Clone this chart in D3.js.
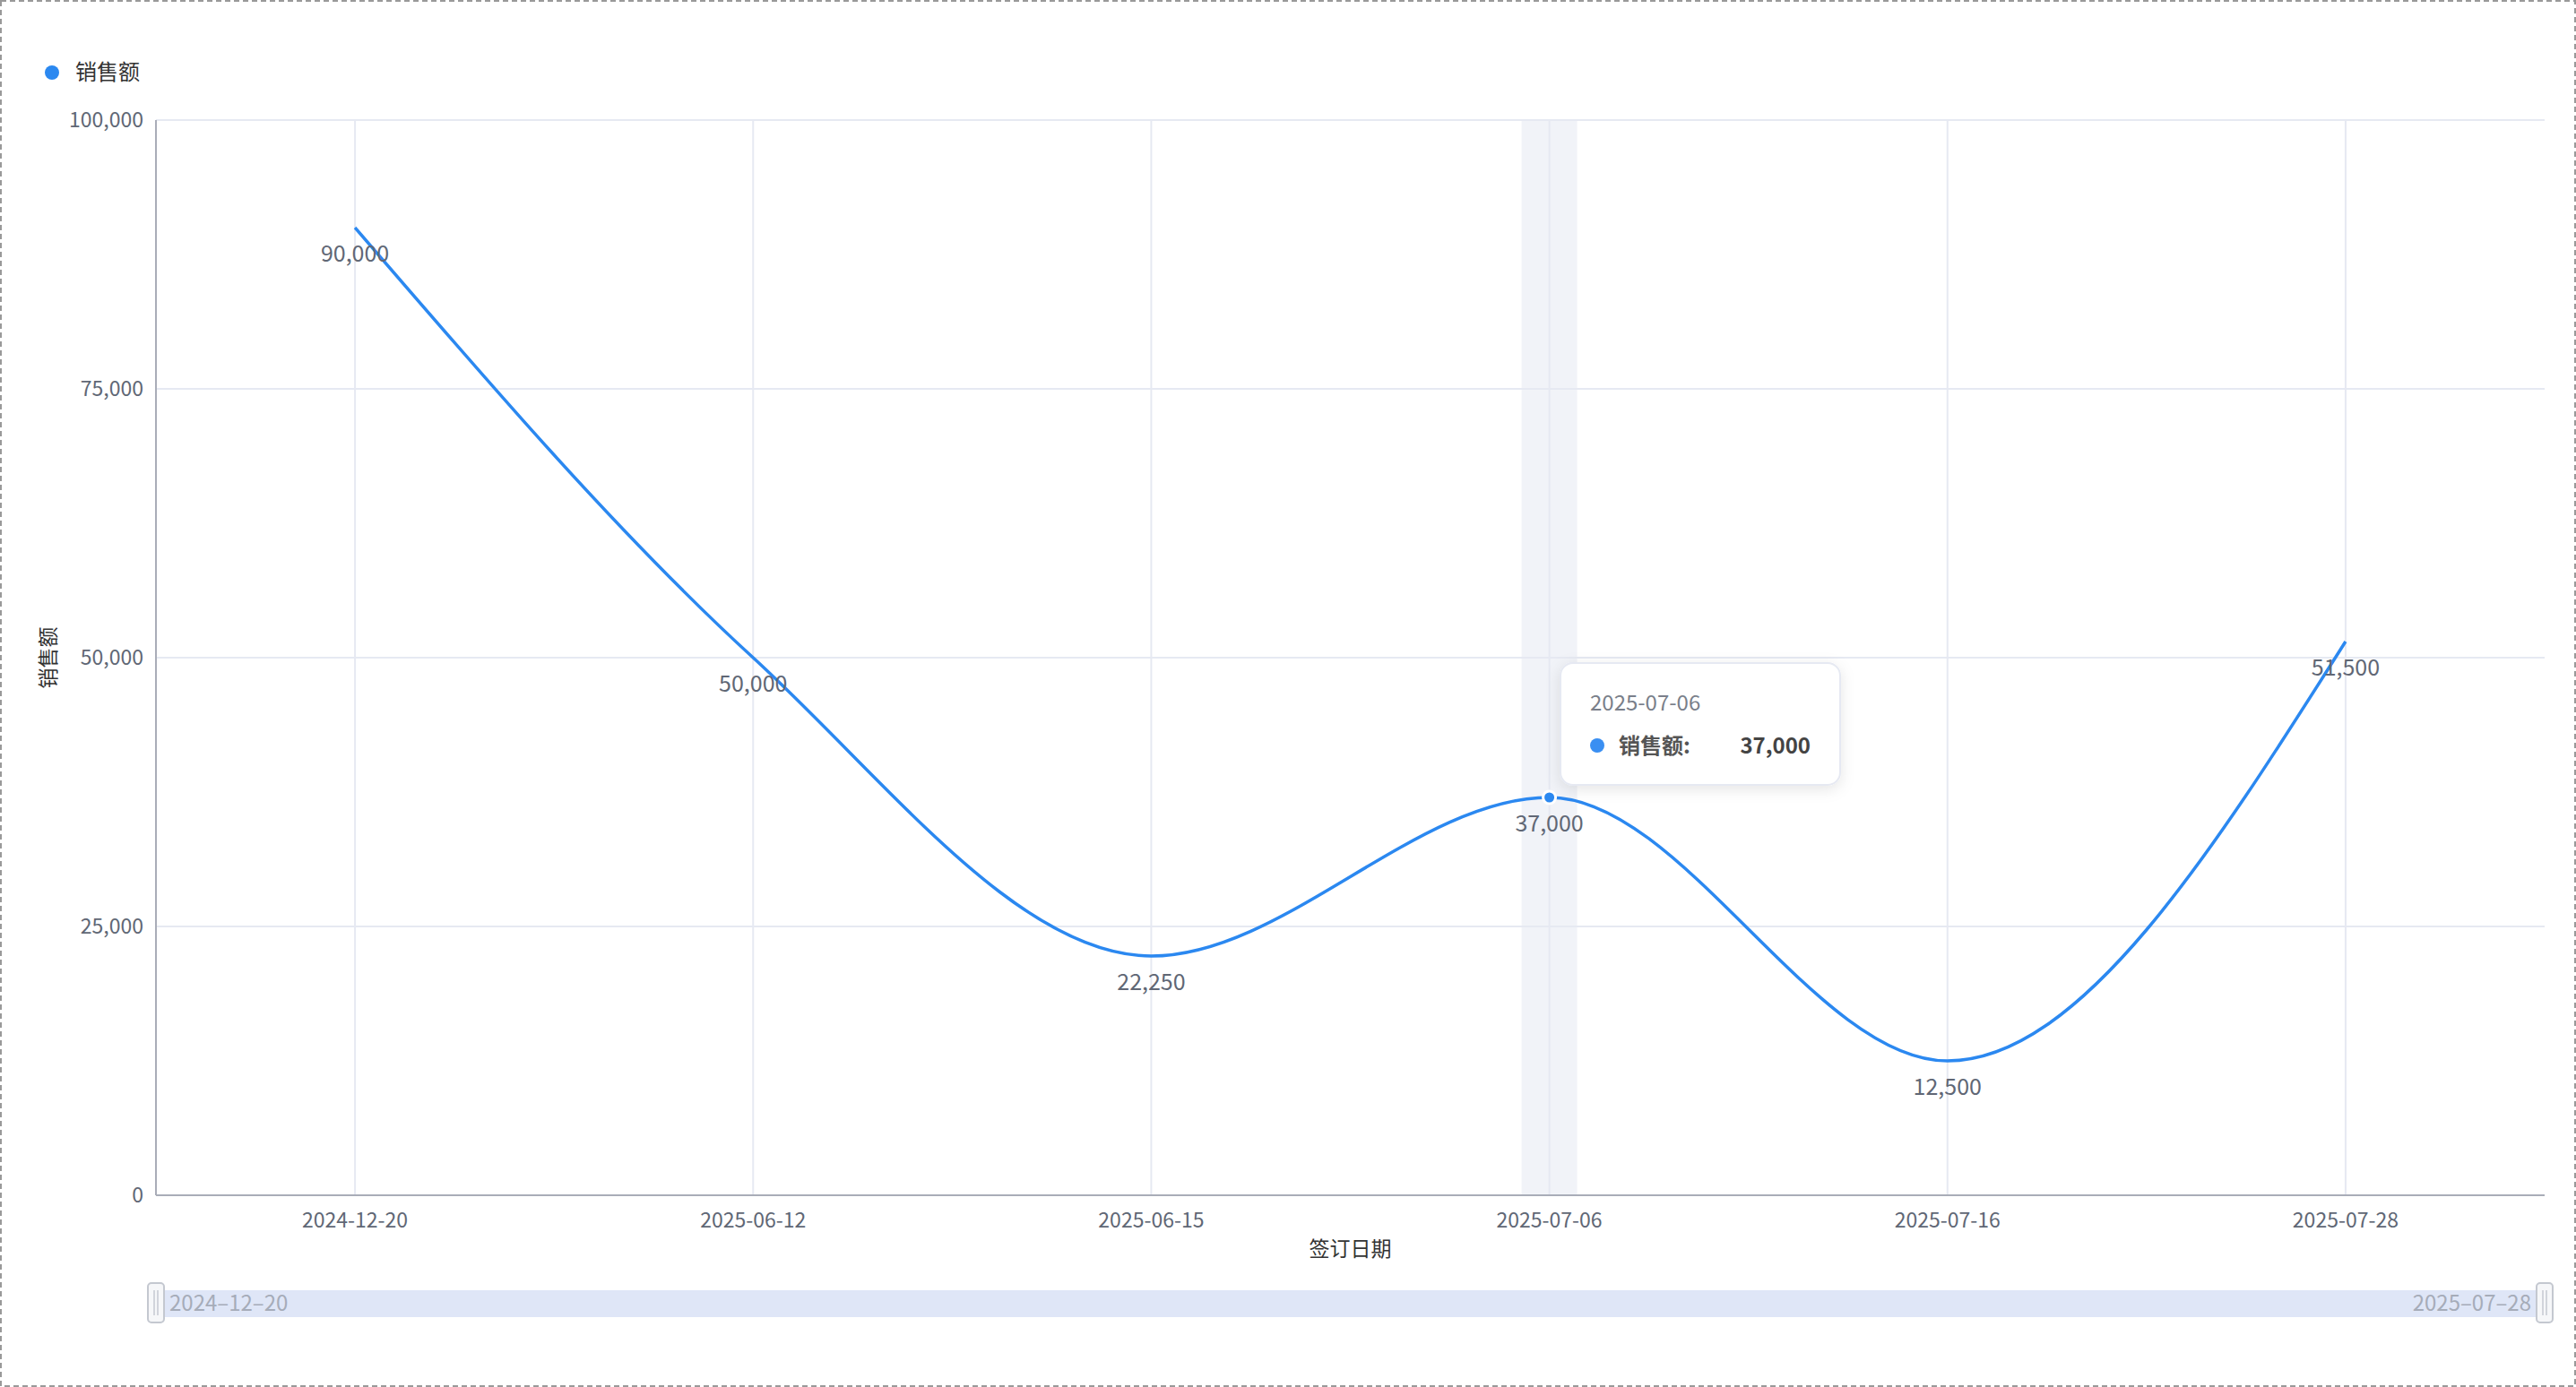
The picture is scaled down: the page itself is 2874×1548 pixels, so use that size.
<!DOCTYPE html>
<html><head><meta charset="utf-8">
<script src="https://cdn.jsdelivr.net/npm/d3@7/dist/d3.min.js"></script>
<style>body{margin:0;background:#fff;font-family:"Noto Sans CJK SC","Noto Sans",sans-serif}</style>
</head><body><svg id="c" width="2874" height="1548"></svg>
<script>
const categories=["2024-12-20","2025-06-12","2025-06-15","2025-07-06","2025-07-16","2025-07-28"];
const values=[90000,50000,22250,37000,12500,51500];
const yTicks=[0,25000,50000,75000,100000];
const seriesName="销售额";
const W=2874,H=1548,L=174,R=2839,T=134,B=1334;
const svg=d3.select("#c");
svg.append("rect").attr("x",1).attr("y",1).attr("width",W-2).attr("height",H-2).attr("fill","none").attr("stroke","#999").attr("stroke-width",2).attr("stroke-dasharray","6,4");
const x=d3.scaleBand().domain(categories).range([L,R]);
const y=d3.scaleLinear().domain([0,100000]).range([B,T]);
const fmt=d3.format(",");
const cx=d=>x(d)+x.bandwidth()/2;
// highlight band
svg.append("rect").attr("x",cx(categories[3])-31).attr("y",T).attr("width",62).attr("height",B-T).attr("fill","#f1f3f8");
// grid
svg.append("g").selectAll("line").data(yTicks).join("line").attr("x1",L).attr("x2",R).attr("y1",d=>y(d)).attr("y2",d=>y(d)).attr("stroke","#e6e9f2").attr("stroke-width",2);
svg.append("g").selectAll("line").data(categories).join("line").attr("x1",cx).attr("x2",cx).attr("y1",T).attr("y2",B).attr("stroke","#e6e9f2").attr("stroke-width",2);
svg.append("line").attr("x1",L).attr("x2",L).attr("y1",T).attr("y2",B).attr("stroke","#a9adb8").attr("stroke-width",2);
svg.append("line").attr("x1",L).attr("x2",R).attr("y1",B).attr("y2",B).attr("stroke","#a9adb8").attr("stroke-width",2);
svg.append("g").selectAll("text").data(yTicks).join("text").attr("x",L-14).attr("y",d=>y(d)).attr("dy","0.35em").attr("text-anchor","end").attr("font-size",23).attr("fill","#606775").text(fmt);
svg.append("g").selectAll("text").data(categories).join("text").attr("x",cx).attr("y",B+36).attr("text-anchor","middle").attr("font-size",23).attr("fill","#606775").text(d=>d);
svg.append("text").attr("x",(L+R)/2).attr("y",1402).attr("text-anchor","middle").attr("font-size",23).attr("fill","#333").text("签订日期");
svg.append("text").attr("transform","translate(62,734) rotate(-90)").attr("text-anchor","middle").attr("font-size",23).attr("fill","#333").text(seriesName);
// legend
svg.append("circle").attr("cx",58).attr("cy",81).attr("r",8).attr("fill","#2b88f0");
svg.append("text").attr("x",84).attr("y",81).attr("dy","0.35em").attr("font-size",24).attr("fill","#333").text(seriesName);
// line
const pts=categories.map((c,i)=>[cx(c),y(values[i])]);
svg.append("path").attr("d",d3.line().curve(d3.curveMonotoneX)(pts)).attr("fill","none").attr("stroke","#2b88f0").attr("stroke-width",3.5);
svg.append("g").selectAll("text").data(categories).join("text").attr("x",cx).attr("y",(d,i)=>y(values[i])+38).attr("text-anchor","middle").attr("font-size",25).attr("fill","#606775").text((d,i)=>fmt(values[i]));
svg.append("circle").attr("cx",pts[3][0]).attr("cy",pts[3][1]).attr("r",7).attr("fill","#2b88f0").attr("stroke","#fff").attr("stroke-width",3);
// tooltip
const f=svg.append("defs").append("filter").attr("id","sh").attr("x","-20%").attr("y","-20%").attr("width","140%").attr("height","150%");
f.append("feDropShadow").attr("dx",0).attr("dy",4).attr("stdDeviation",8).attr("flood-color","#000").attr("flood-opacity",0.1);
svg.append("rect").attr("x",1741).attr("y",740).attr("width",312).attr("height",136).attr("rx",14).attr("fill","#fff").attr("stroke","#e6e9f2").attr("stroke-width",2).attr("filter","url(#sh)");
svg.append("text").attr("x",1774).attr("y",793).attr("font-size",24).attr("fill","#7a7f8a").text(categories[3]);
svg.append("circle").attr("cx",1782).attr("cy",832).attr("r",8).attr("fill","#3a8ff2");
svg.append("text").attr("x",1806).attr("y",841).attr("font-size",24).attr("font-weight","bold").attr("fill","#555").text(seriesName+":");
svg.append("text").attr("x",2020).attr("y",841).attr("text-anchor","end").attr("font-size",24).attr("font-weight","bold").attr("fill","#444").text(fmt(values[3]));
// slider
svg.append("rect").attr("x",L).attr("y",1440).attr("width",R-L).attr("height",30).attr("fill","#dfe6f7");
[L,R].forEach(px=>{
  svg.append("rect").attr("x",px-9).attr("y",1432).attr("width",18).attr("height",44).attr("rx",4).attr("fill","#f6f7f9").attr("stroke","#c4c8d0").attr("stroke-width",2);
  svg.append("line").attr("x1",px-2).attr("x2",px-2).attr("y1",1440).attr("y2",1468).attr("stroke","#c4c8d0").attr("stroke-width",1.5);
  svg.append("line").attr("x1",px+2).attr("x2",px+2).attr("y1",1440).attr("y2",1468).attr("stroke","#c4c8d0").attr("stroke-width",1.5);
});
svg.append("text").attr("x",L+15).attr("y",1455).attr("dy","0.35em").attr("font-size",24).attr("fill","#a6acb9").text(categories[0].replace(/-/g,"–"));
svg.append("text").attr("x",R-15).attr("y",1455).attr("dy","0.35em").attr("text-anchor","end").attr("font-size",24).attr("fill","#a6acb9").text(categories[5].replace(/-/g,"–"));
</script></body></html>
